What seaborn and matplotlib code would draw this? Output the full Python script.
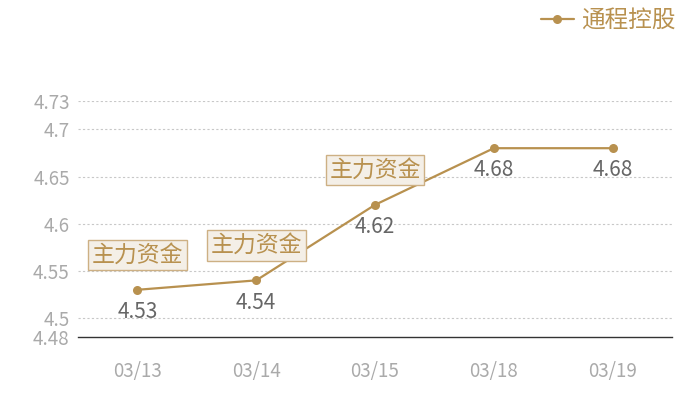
import matplotlib
matplotlib.use("Agg")
import matplotlib.pyplot as plt
import seaborn as sns
import pandas as pd

dates = ["03/13", "03/14", "03/15", "03/18", "03/19"]
prices = [4.53, 4.54, 4.62, 4.68, 4.68]
series_name = "通程控股"
flag_dates = ["03/13", "03/14", "03/15"]
flag_text = "主力资金"
yticks = [4.48, 4.5, 4.55, 4.6, 4.65, 4.7, 4.73]
ytick_labels = ["4.48", "4.5", "4.55", "4.6", "4.65", "4.7", "4.73"]

sns.set_style("white")
plt.rcParams['font.family'] = ['Noto Sans CJK SC', 'DejaVu Sans']

gold = "#b8914f"
df = pd.DataFrame({"date": dates, "price": prices, "series": series_name})

fig = plt.figure(figsize=(7, 4), dpi=100)
ax = fig.add_axes([78/700, 1-337/400, 594/700, 236/400])

sns.lineplot(data=df, x="date", y="price", hue="series", palette=[gold],
             marker="o", markersize=6.5, markeredgewidth=0, linewidth=1.6,
             ax=ax, sort=False)

ax.set_xlim(-0.5, len(dates) - 0.5)
ax.set_ylim(yticks[0], yticks[-1])
ax.set_yticks(yticks)
ax.set_yticklabels(ytick_labels)
for y in yticks[1:]:
    ax.axhline(y, color="#c8c8c8", linestyle=(0, (2, 2)), linewidth=0.8, zorder=0)

for s in ["top", "right", "left"]:
    ax.spines[s].set_visible(False)
ax.spines["bottom"].set_color("#333333")
ax.spines["bottom"].set_linewidth(1.0)

ax.tick_params(axis="both", length=0, labelsize=13.5, labelcolor="#aaaaaa")
ax.tick_params(axis="x", pad=17)
ax.tick_params(axis="y", pad=6)
ax.set_xlabel("")
ax.set_ylabel("")

for i, (d, p) in enumerate(zip(dates, prices)):
    ax.annotate(f"{p:.2f}", (i, p), xytext=(0, -16), textcoords="offset points",
                ha="center", va="center", fontsize=15, color="#666666")

for d in flag_dates:
    i = dates.index(d)
    p = prices[i]
    ax.annotate(flag_text, (i, p), xytext=(0, 25), textcoords="offset points",
                ha="center", va="center", fontsize=16.5, color=gold,
                bbox=dict(boxstyle="square,pad=0.16", facecolor="#f4efe7",
                          edgecolor="#cdb084", linewidth=1.0))

leg = ax.legend(loc="upper right", bbox_to_anchor=(692/700, 1.018), bbox_transform=fig.transFigure,
                frameon=False, fontsize=17, handlelength=1.4, handletextpad=0.3,
                borderpad=0.2)
for t in leg.get_texts():
    t.set_color(gold)

fig.savefig("out.png", dpi=100)
